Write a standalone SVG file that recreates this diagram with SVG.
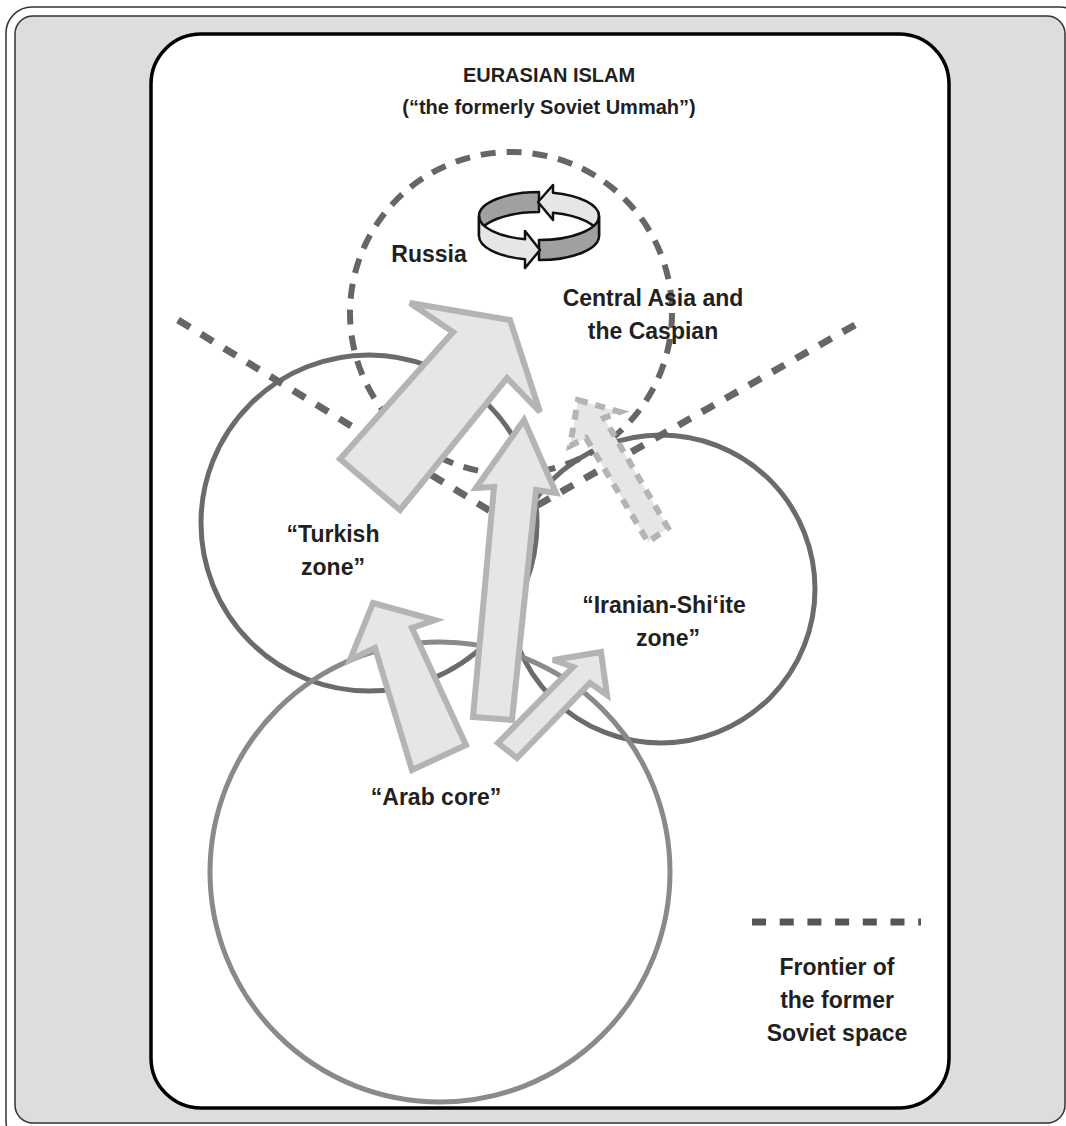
<svg xmlns="http://www.w3.org/2000/svg" width="1066" height="1126" viewBox="0 0 1066 1126">
<style>
.lbl{font-family:"Liberation Sans",Arial,sans-serif;font-weight:bold;font-size:23px;fill:#231f20;text-anchor:middle}
.ttl{font-family:"Liberation Sans",Arial,sans-serif;font-weight:bold;font-size:20px;fill:#231f20;text-anchor:middle}
.zone{fill:none;stroke:#6b6b6b;stroke-width:5}
.arab{fill:none;stroke:#8a8a8a;stroke-width:5}
.front{fill:none;stroke:#666;stroke-width:7;stroke-dasharray:14 13}
.arr{fill:#e6e6e6;stroke:#b4b4b4;stroke-width:6;stroke-linejoin:miter}
.ring{stroke:#111;stroke-width:2.5;stroke-linejoin:round}
</style>
<rect x="6" y="7" width="1080" height="1140" rx="26" fill="#fff" stroke="#333" stroke-width="1.5"/>
<rect x="15" y="16" width="1050" height="1107" rx="18" fill="#dcdddf" stroke="#333" stroke-width="1.5"/>
<rect x="151" y="34" width="798" height="1074" rx="50" fill="#fff" stroke="#000" stroke-width="3.5"/>

<g id="turkish-zone"><circle class="zone" cx="369" cy="523" r="168"/></g>
<g id="iranian-zone"><circle class="zone" cx="661" cy="589" r="154"/></g>
<g id="arab-core"><circle class="arab" cx="440" cy="872" r="230"/></g>
<g id="russia-central-asia"><circle cx="511" cy="313" r="161" fill="none" stroke="#666" stroke-width="6" stroke-dasharray="15 11"/></g>

<g id="frontier">
<line class="front" x1="178" y1="320" x2="505" y2="520"/>
<line class="front" x1="855" y1="325" x2="508" y2="522"/>
</g>

<g id="connectors">
<polygon class="arr" points="410,303 510,320 540,412 507,378 400,510 340,459 453,332"/>
<polygon class="arr" points="524,420 556,493 536,490 512,720 473,717 494,487 476,488"/>
<polygon class="arr" points="373,603 435,620 412,628 466,745 412,770 375,648 350,660"/>
<polygon class="arr" points="601,652 607,695 590,683 517,758 498,743 573,667 553,660"/>
<polygon points="578,400 620,412 604,418 668,528 648,542 586,438 570,446" fill="#e6e6e6" stroke="#b4b4b4" stroke-width="6" stroke-dasharray="10 8"/>
</g>

<g id="rotation-icon">
<path class="ring" fill="#a0a0a0" d="M479,216 A60,24 0 0 1 539,192 L539,212 A60,24 0 0 0 479,236 Z"/>
<path class="ring" fill="#e6e6e6" d="M599,216 A60,24 0 0 0 553,192.7 L553,185 L538,202 L553,220 L553,212.7 A60,24 0 0 1 599,236 Z"/>
<path class="ring" fill="#a0a0a0" d="M539,240 A60,24 0 0 0 599,216 L599,236 A60,24 0 0 1 539,260 Z"/>
<path class="ring" fill="#e6e6e6" d="M479,216 A60,24 0 0 0 525,239.3 L525,231 L540,250 L525,268 L525,259.3 A60,24 0 0 1 479,236 Z"/>
</g>

<g id="title">
<text class="ttl" x="549" y="82">EURASIAN ISLAM</text>
<text class="ttl" x="549" y="114">(“the formerly Soviet Ummah”)</text>
</g>
<g id="labels">
<text class="lbl" x="429" y="262">Russia</text>
<text class="lbl" x="653" y="306">Central Asia and</text>
<text class="lbl" x="653" y="339">the Caspian</text>
<text class="lbl" x="333" y="542">“Turkish</text>
<text class="lbl" x="333" y="575">zone”</text>
<text class="lbl" x="664" y="613">“Iranian-Shi‘ite</text>
<text class="lbl" x="668" y="646">zone”</text>
<text class="lbl" x="436" y="805">“Arab core”</text>
</g>
<g id="legend">
<line x1="752" y1="922" x2="921" y2="922" stroke="#555" stroke-width="7" stroke-dasharray="14 13.7"/>
<text class="lbl" x="837" y="975">Frontier of</text>
<text class="lbl" x="837" y="1008">the former</text>
<text class="lbl" x="837" y="1041">Soviet space</text>
</g>
</svg>
